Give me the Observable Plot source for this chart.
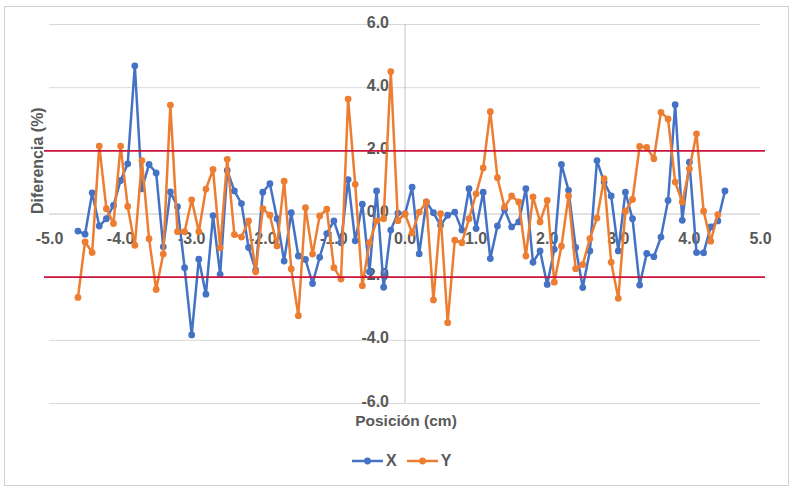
<!DOCTYPE html>
<html>
<head>
<meta charset="utf-8">
<script src="https://cdn.jsdelivr.net/npm/d3@7"></script>
<script src="https://cdn.jsdelivr.net/npm/@observablehq/plot@0.6"></script>
<style>
  body { margin: 0; background: #fff; font-family: "Liberation Sans", Arial, sans-serif; }
  #wrap { position: relative; width: 796px; height: 494px; overflow: hidden; background: #fff; }
  #border { position: absolute; left: 4px; top: 6px; width: 785px; height: 480px; border: 1px solid #d0d0d0; box-sizing: border-box; }
  #chart { position: absolute; left: 0; top: 0; }
  #legend { position: absolute; top: 452px; left: 352px; display: flex; align-items: center; gap: 10px;
            font-size: 16px; font-weight: bold; color: #595959; }
  .item { display: flex; align-items: center; gap: 3px; }
</style>
</head>
<body>
<div id="wrap">
  <div id="border"></div>
  <div id="chart"></div>
  <div id="legend"></div>
</div>
<script>
// Posiciones (cm)
const posiciones = [-4.6,-4.5,-4.4,-4.3,-4.2,-4.1,-4.0,-3.9,-3.8,-3.7,-3.6,-3.5,-3.4,-3.3,-3.2,-3.1,-3.0,-2.9,-2.8,-2.7,
  -2.6,-2.5,-2.4,-2.3,-2.2,-2.1,-2.0,-1.9,-1.8,-1.7,-1.6,-1.5,-1.4,-1.3,-1.2,-1.1,-1.0,-0.9,-0.8,-0.7,
  -0.6,-0.5,-0.4,-0.3,-0.2,-0.1,0.0,0.1,0.2,0.3,0.4,0.5,0.6,0.7,0.8,0.9,1.0,1.1,1.2,1.3,
  1.4,1.5,1.6,1.7,1.8,1.9,2.0,2.1,2.2,2.3,2.4,2.5,2.6,2.7,2.8,2.9,3.0,3.1,3.2,3.3,
  3.4,3.5,3.6,3.7,3.8,3.9,4.0,4.1,4.2,4.3,4.4,4.5];

// Diferencia (%) serie X
const difX = [-0.54,-0.64,0.67,-0.38,-0.15,0.27,1.06,1.59,4.69,0.80,1.57,1.30,-1.04,0.70,0.23,-1.70,-3.83,-1.43,-2.54,-0.05,
  -1.91,1.38,0.73,0.33,-1.06,-1.78,0.69,0.96,-0.15,-1.49,0.04,-1.33,-1.44,-2.20,-1.37,-0.62,-0.22,-0.91,1.09,-0.85,
  0.31,-1.83,0.73,-2.32,-0.51,0.03,0.00,0.85,-1.26,0.38,0.04,-0.36,-0.04,0.06,-0.51,0.80,-0.46,0.69,-1.41,-0.38,
  0.14,-0.41,-0.25,0.80,-1.53,-1.17,-2.23,-1.12,1.57,0.75,-1.06,-2.33,-1.17,1.69,1.01,0.57,-1.17,0.69,-0.15,-2.25,
  -1.25,-1.35,-0.73,0.43,3.46,-0.20,1.64,-1.22,-1.23,-0.41,-0.22,0.73];

// Diferencia (%) serie Y
const difY = [-2.64,-0.88,-1.22,2.15,0.17,-0.30,2.15,0.24,-0.99,1.69,-0.78,-2.39,-1.27,3.45,-0.56,-0.56,0.45,-0.56,0.79,1.41,
  -1.07,1.73,-0.65,-0.73,-0.22,-1.83,0.17,-0.04,-1.01,1.04,-1.74,-3.22,0.20,-1.27,-0.06,0.15,-1.70,-2.06,3.64,0.94,
  -2.27,-0.91,-0.22,-0.15,4.51,-0.21,0.00,-0.60,0.06,0.38,-2.72,0.01,-3.44,-0.83,-0.91,-0.15,0.64,1.46,3.24,1.15,
  0.22,0.57,0.38,-1.33,0.54,-0.25,0.43,-2.16,-1.02,0.57,-1.73,-1.60,-0.78,-0.13,1.12,-1.53,-2.67,0.09,0.46,2.14,
  2.11,1.75,3.22,3.01,1.01,0.38,1.43,2.54,0.09,-0.86,-0.02];

const ticksX = [-5,-4,-3,-2,-1,0,1,2,3,4,5];
const ticksY = [-6,-4,-2,0,2,4,6];
const gridY = [-6,-4,4,6];
const limites = [-2, 2];

const colorX = "#4472C4";
const colorY = "#ED7D31";
const textColor = "#595959";

const serieX = posiciones.map((p, i) => ({pos: p, dif: difX[i]}));
const serieY = difY.map((d, i) => ({pos: posiciones[i], dif: d}));

const fmt = d => (Math.abs(d) < 1e-9 ? 0 : d).toFixed(1);
const font = {fontSize: 16, fontWeight: "bold", fill: textColor};

const chart = Plot.plot({
  width: 796,
  height: 440,
  marginLeft: 49,
  marginRight: 36,
  marginTop: 24,
  marginBottom: 37,
  x: {domain: [-5, 5], axis: null},
  y: {domain: [-6, 6], axis: null},
  style: {fontFamily: "'Liberation Sans', Arial, sans-serif", overflow: "visible", background: "transparent"},
  marks: [
    Plot.ruleY(gridY, {stroke: "#d9d9d9", strokeWidth: 1}),
    Plot.ruleY([0], {stroke: "#c4c4c4", strokeWidth: 1}),
    Plot.ruleX([0], {stroke: "#c4c4c4", strokeWidth: 1}),
    Plot.text(ticksX, {x: d => d, y: 0, dy: 25, text: fmt, ...font}),
    Plot.text(ticksY, {x: 0, y: d => d, dx: -16, dy: -2, textAnchor: "end", text: fmt, ...font}),
    Plot.line(serieX, {x: "pos", y: "dif", stroke: colorX, strokeWidth: 2.5}),
    Plot.dot(serieX, {x: "pos", y: "dif", r: 3.4, fill: colorX, stroke: "none"}),
    Plot.line(serieY, {x: "pos", y: "dif", stroke: colorY, strokeWidth: 2.5}),
    Plot.dot(serieY, {x: "pos", y: "dif", r: 3.4, fill: colorY, stroke: "none"}),
    Plot.ruleY(limites, {y: d => d, x1: -5.07, x2: 5.07, stroke: "#C8143C", strokeWidth: 1.75}),
    Plot.text(["Diferencia (%)"], {frameAnchor: "left", dx: -12, rotate: -90, text: d => d, ...font, fontSize: 16}),
    Plot.text(["Posición (cm)"], {frameAnchor: "bottom", dx: 1, dy: 22, text: d => d, ...font, fontSize: 15.5})
  ]
});
document.getElementById("chart").appendChild(chart);

// Legend
const legend = document.getElementById("legend");
[["X", colorX], ["Y", colorY]].forEach(([name, col]) => {
  const item = document.createElement("div");
  item.className = "item";
  item.innerHTML = `<svg width="31" height="12"><line x1="0" y1="6" x2="31" y2="6" stroke="${col}" stroke-width="2.5"/><circle cx="15.5" cy="6" r="3.4" fill="${col}"/></svg><span>${name}</span>`;
  legend.appendChild(item);
});
</script>
</body>
</html>
